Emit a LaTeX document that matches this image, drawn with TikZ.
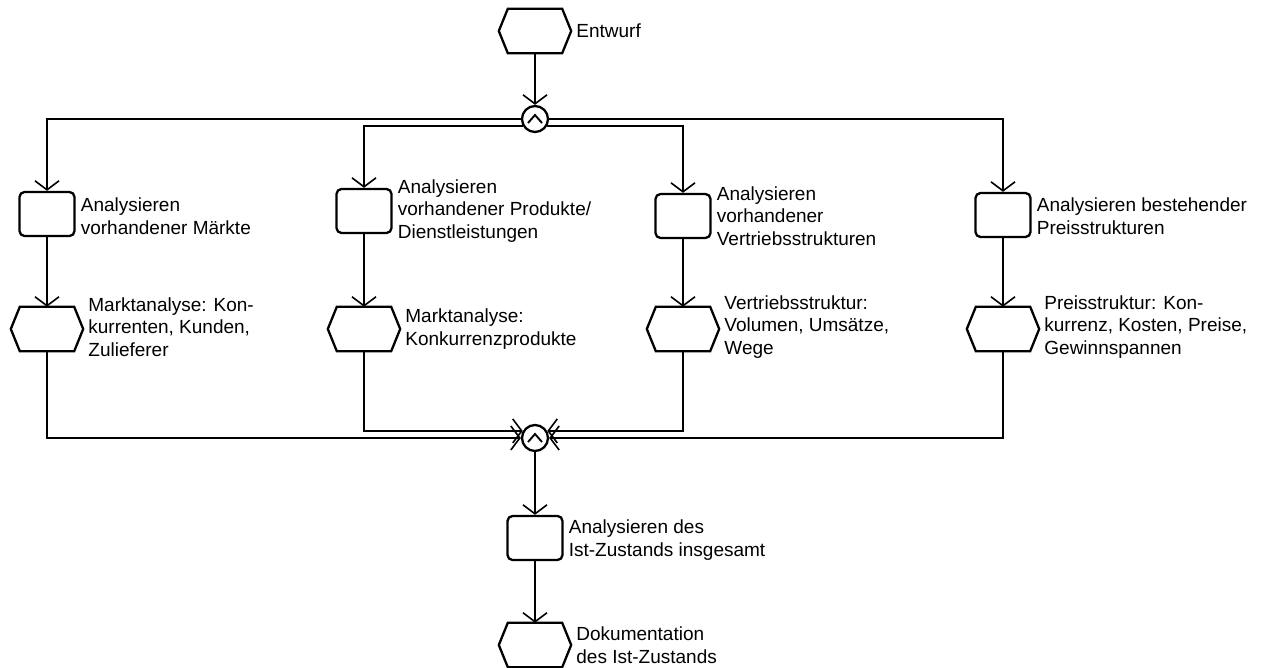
\documentclass[tikz,border=0pt]{standalone}
\usepackage{fontspec}
\setmainfont{Liberation Sans}
\usetikzlibrary{arrows.meta}
\begin{document}
\begin{tikzpicture}[x=1pt,y=-1pt,
  label distance=5pt,
  conn/.style={line width=1.6pt,-{Straight Barb[length=9pt,width=24pt,line width=1.6pt]}},
  shapeline/.style={line width=2.3pt},
  func/.style={draw,shapeline,rounded corners=5pt,minimum width=55pt,minimum height=44pt,inner sep=0pt},
  evbox/.style={minimum width=72pt,minimum height=44pt,inner sep=0pt},
  andop/.style={circle,draw,shapeline,minimum size=26pt,inner sep=0pt,
    path picture={\draw[line width=1.9pt]
      ([xshift=-7pt,yshift=-4pt]path picture bounding box.center) -- ++(7pt,8pt) -- ++(7pt,-8pt);}},
  lbl/.style={font=\fontsize{19}{22.5}\selectfont,align=left,inner sep=0pt}
]
\fill[white] (0,0) rectangle (1263,668);
\useasboundingbox (0,0) rectangle (1263,668);

% start event and opening AND split
\node[evbox,label={[lbl]right:Entwurf}] (e0) at (535,31) {};
\node[andop] (and1) at (535,119) {};

% analysis functions
\node[func,label={[lbl,yshift=-2pt]right:{Analysieren\\vorhandener Märkte}}] (f1) at (47,214) {};
\node[func,label={[lbl]right:{Analysieren\\vorhandener Produkte/\\Dienstleistungen}}] (f2) at (364,211) {};
\node[func,label={[lbl]right:{Analysieren\\vorhandener\\Vertriebsstrukturen}}] (f3) at (683,216) {};
\node[func,label={[lbl,yshift=-1pt]right:{Analysieren bestehender\\Preisstrukturen}}] (f4) at (1003,215) {};

% result events
\node[evbox,label={[lbl,yshift=2pt]right:{Marktanalyse: Kon-\\kurrenten, Kunden,\\Zulieferer}}] (e1) at (47,329) {};
\node[evbox,label={[lbl]right:{Marktanalyse:\\Konkurrenzprodukte}}] (e2) at (364,329) {};
\node[evbox,label={[lbl,yshift=2pt]right:{Vertriebsstruktur:\\Volumen, Umsätze,\\Wege}}] (e3) at (683,329) {};
\node[evbox,label={[lbl,yshift=2pt]right:{Preisstruktur: Kon-\\kurrenz, Kosten, Preise,\\Gewinnspannen}}] (e4) at (1003,329) {};

% closing AND join, overall analysis and documentation
\node[andop] (and2) at (535,438) {};
\node[func,label={[lbl,yshift=-2pt]right:{Analysieren des\\Ist-Zustands insgesamt}}] (fb) at (535,538) {};
\node[evbox,label={[lbl]right:{Dokumentation\\des Ist-Zustands}}] (doc) at (535,645) {};

% hexagonal event outlines
\foreach \n in {e0,e1,e2,e3,e4,doc}
  \draw[shapeline] (\n.west) -- ([xshift=9pt]\n.north west) -- ([xshift=-9pt]\n.north east)
    -- (\n.east) -- ([xshift=-9pt]\n.south east) -- ([xshift=9pt]\n.south west) -- cycle;

% control flow
\draw[conn] (e0.south) -- (and1.north);
\draw[conn] (and1.west) -| (f1.north);
\draw[conn] (and1.east) -| (f4.north);
\draw[conn] (and1.-150) -| (f2.north);
\draw[conn] (and1.-30) -| (f3.north);
\foreach \i in {1,2,3,4}
  \draw[conn] (f\i.south) -- (e\i.north);
\draw[conn] (e1.south) |- (and2.west);
\draw[conn] (e4.south) |- (and2.east);
\draw[conn] (e2.south) |- (and2.150);
\draw[conn] (e3.south) |- (and2.30);
\draw[conn] (and2.south) -- (fb.north);
\draw[conn] (fb.south) -- (doc.north);
\end{tikzpicture}
\end{document}
